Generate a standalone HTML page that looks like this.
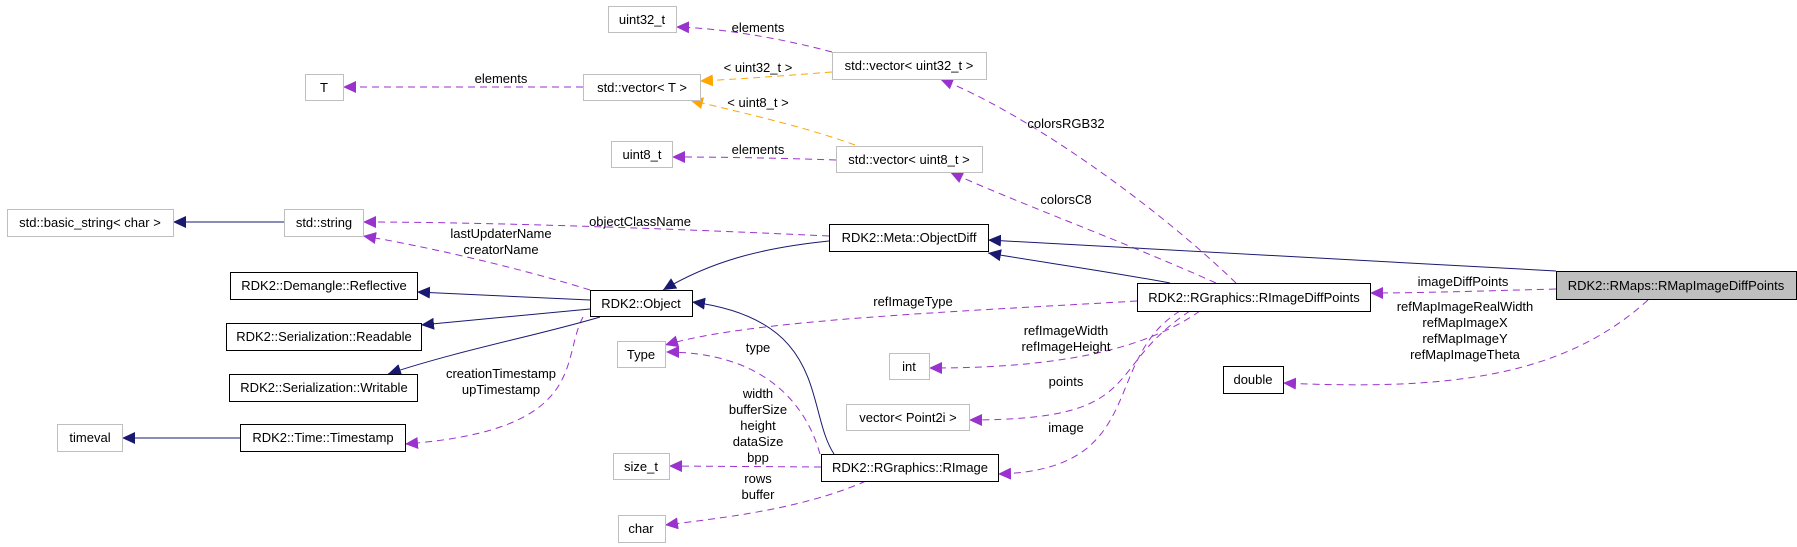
<!DOCTYPE html>
<html><head><meta charset="utf-8"><style>
html,body{margin:0;padding:0;background:#fff;}
svg{display:block;font-family:"Liberation Sans",sans-serif;font-size:13px;}
</style></head><body>
<svg width="1797" height="547" viewBox="0 0 1797 547" xmlns="http://www.w3.org/2000/svg">
<defs>
<marker id="p" markerUnits="userSpaceOnUse" markerWidth="14" markerHeight="12" refX="13" refY="6" orient="auto"><path d="M0,0 L13,6 L0,12 z" fill="#9a32cd"/></marker>
<marker id="n" markerUnits="userSpaceOnUse" markerWidth="14" markerHeight="12" refX="13" refY="6" orient="auto"><path d="M0,0 L13,6 L0,12 z" fill="#191970"/></marker>
<marker id="o" markerUnits="userSpaceOnUse" markerWidth="14" markerHeight="12" refX="13" refY="6" orient="auto"><path d="M0,0 L13,6 L0,12 z" fill="#ffa500"/></marker>
</defs>
<g fill="none" stroke-width="1">
<g stroke="#9a32cd" stroke-dasharray="7,5" marker-end="url(#p)">
<path d="M832,52 C780,38 720,28 676,27"/>
<path d="M583,87 L343,87"/>
<path d="M836,160 C780,158 720,157 672,157"/>
<path d="M829,236 C700,230 500,222 363,222"/>
<path d="M590,290 C520,268 420,245 363,236"/>
<path d="M583,317 C560,360 590,430 405,444"/>
<path d="M820,454 C805,400 760,352 666,352"/>
<path d="M821,467 L669,466"/>
<path d="M866,481 C800,510 720,518 665,525"/>
<path d="M1556,289 C1480,291 1420,293 1370,293"/>
<path d="M1648,300 C1560,380 1440,390 1283,383"/>
<path d="M1236,283 C1150,200 1020,110 940,79"/>
<path d="M1216,283 C1120,240 1010,200 950,172"/>
<path d="M1137,301 C950,312 750,320 665,345"/>
<path d="M1200,311 C1130,360 1020,368 929,368"/>
<path d="M1190,311 C1100,370 1150,420 969,420"/>
<path d="M1180,311 C1100,360 1150,470 998,474"/>
</g>
<g stroke="#ffa500" stroke-dasharray="7,5" marker-end="url(#o)">
<path d="M832,72 C780,76 740,79 700,81"/>
<path d="M855,145 C800,125 730,110 690,100"/>
</g>
<g stroke="#191970" marker-end="url(#n)">
<path d="M284,222 L173,222"/>
<path d="M829,241 C760,248 710,262 663,290"/>
<path d="M590,300 L417,292"/>
<path d="M590,309 L421,325"/>
<path d="M600,317 C540,335 460,350 388,374"/>
<path d="M240,438 L122,438"/>
<path d="M834,454 C805,410 830,320 692,302"/>
<path d="M1170,283 C1100,270 1040,262 988,253"/>
<path d="M1556,271 C1350,258 1150,248 988,240"/>
</g>
</g>
<g stroke-width="1">
<g fill="#fff" stroke="#bfbfbf">
<rect x="608.5" y="6.5" width="68" height="26"/>
<rect x="305.5" y="74.5" width="38" height="26"/>
<rect x="583.5" y="74.5" width="117" height="26"/>
<rect x="611.5" y="141.5" width="61" height="26"/>
<rect x="832.5" y="52.5" width="154" height="27"/>
<rect x="836.5" y="146.5" width="146" height="26"/>
<rect x="7.5" y="209.5" width="166" height="27"/>
<rect x="284.5" y="209.5" width="79" height="27"/>
<rect x="57.5" y="424.5" width="65" height="27"/>
<rect x="617.5" y="341.5" width="48" height="26"/>
<rect x="613.5" y="453.5" width="56" height="26"/>
<rect x="618.5" y="515.5" width="47" height="27"/>
<rect x="889.5" y="353.5" width="40" height="26"/>
<rect x="846.5" y="404.5" width="123" height="26"/>
</g>
<g fill="#fff" stroke="#000">
<rect x="829.5" y="224.5" width="159" height="27"/>
<rect x="230.5" y="272.5" width="187" height="27"/>
<rect x="226.5" y="323.5" width="195" height="27"/>
<rect x="229.5" y="374.5" width="188" height="27"/>
<rect x="240.5" y="424.5" width="165" height="27"/>
<rect x="590.5" y="290.5" width="102" height="26"/>
<rect x="821.5" y="454.5" width="177" height="27"/>
<rect x="1137.5" y="283.5" width="233" height="28"/>
<rect x="1223.5" y="366.5" width="60" height="27"/>
</g>
<rect x="1556.5" y="271.5" width="240" height="28" fill="#bfbfbf" stroke="#000"/>
</g>
<g fill="#000" text-anchor="middle">
<text x="642" y="24">uint32_t</text>
<text x="324" y="92">T</text>
<text x="642" y="92">std::vector&lt; T &gt;</text>
<text x="642" y="159">uint8_t</text>
<text x="909" y="70">std::vector&lt; uint32_t &gt;</text>
<text x="909" y="164">std::vector&lt; uint8_t &gt;</text>
<text x="90" y="227">std::basic_string&lt; char &gt;</text>
<text x="324" y="227">std::string</text>
<text x="909" y="242">RDK2::Meta::ObjectDiff</text>
<text x="324" y="290">RDK2::Demangle::Reflective</text>
<text x="324" y="341">RDK2::Serialization::Readable</text>
<text x="324" y="392">RDK2::Serialization::Writable</text>
<text x="90" y="442">timeval</text>
<text x="323" y="442">RDK2::Time::Timestamp</text>
<text x="641" y="308">RDK2::Object</text>
<text x="641" y="359">Type</text>
<text x="641" y="471">size_t</text>
<text x="641" y="533">char</text>
<text x="909" y="371">int</text>
<text x="908" y="422">vector&lt; Point2i &gt;</text>
<text x="910" y="472">RDK2::RGraphics::RImage</text>
<text x="1254" y="302">RDK2::RGraphics::RImageDiffPoints</text>
<text x="1253" y="384">double</text>
<text x="1676" y="290">RDK2::RMaps::RMapImageDiffPoints</text>
<text x="758" y="32">elements</text>
<text x="758" y="72">&lt; uint32_t &gt;</text>
<text x="501" y="83">elements</text>
<text x="758" y="107">&lt; uint8_t &gt;</text>
<text x="758" y="154">elements</text>
<text x="640" y="226">objectClassName</text>
<text x="501" y="238">lastUpdaterName</text>
<text x="501" y="254">creatorName</text>
<text x="501" y="378">creationTimestamp</text>
<text x="501" y="394">upTimestamp</text>
<text x="758" y="352">type</text>
<text x="758" y="398">width</text>
<text x="758" y="414">bufferSize</text>
<text x="758" y="430">height</text>
<text x="758" y="446">dataSize</text>
<text x="758" y="462">bpp</text>
<text x="758" y="483">rows</text>
<text x="758" y="499">buffer</text>
<text x="913" y="306">refImageType</text>
<text x="1066" y="128">colorsRGB32</text>
<text x="1066" y="204">colorsC8</text>
<text x="1066" y="335">refImageWidth</text>
<text x="1066" y="351">refImageHeight</text>
<text x="1066" y="386">points</text>
<text x="1066" y="432">image</text>
<text x="1463" y="286">imageDiffPoints</text>
<text x="1465" y="311">refMapImageRealWidth</text>
<text x="1465" y="327">refMapImageX</text>
<text x="1465" y="343">refMapImageY</text>
<text x="1465" y="359">refMapImageTheta</text>
</g>
</svg>
</body></html>
